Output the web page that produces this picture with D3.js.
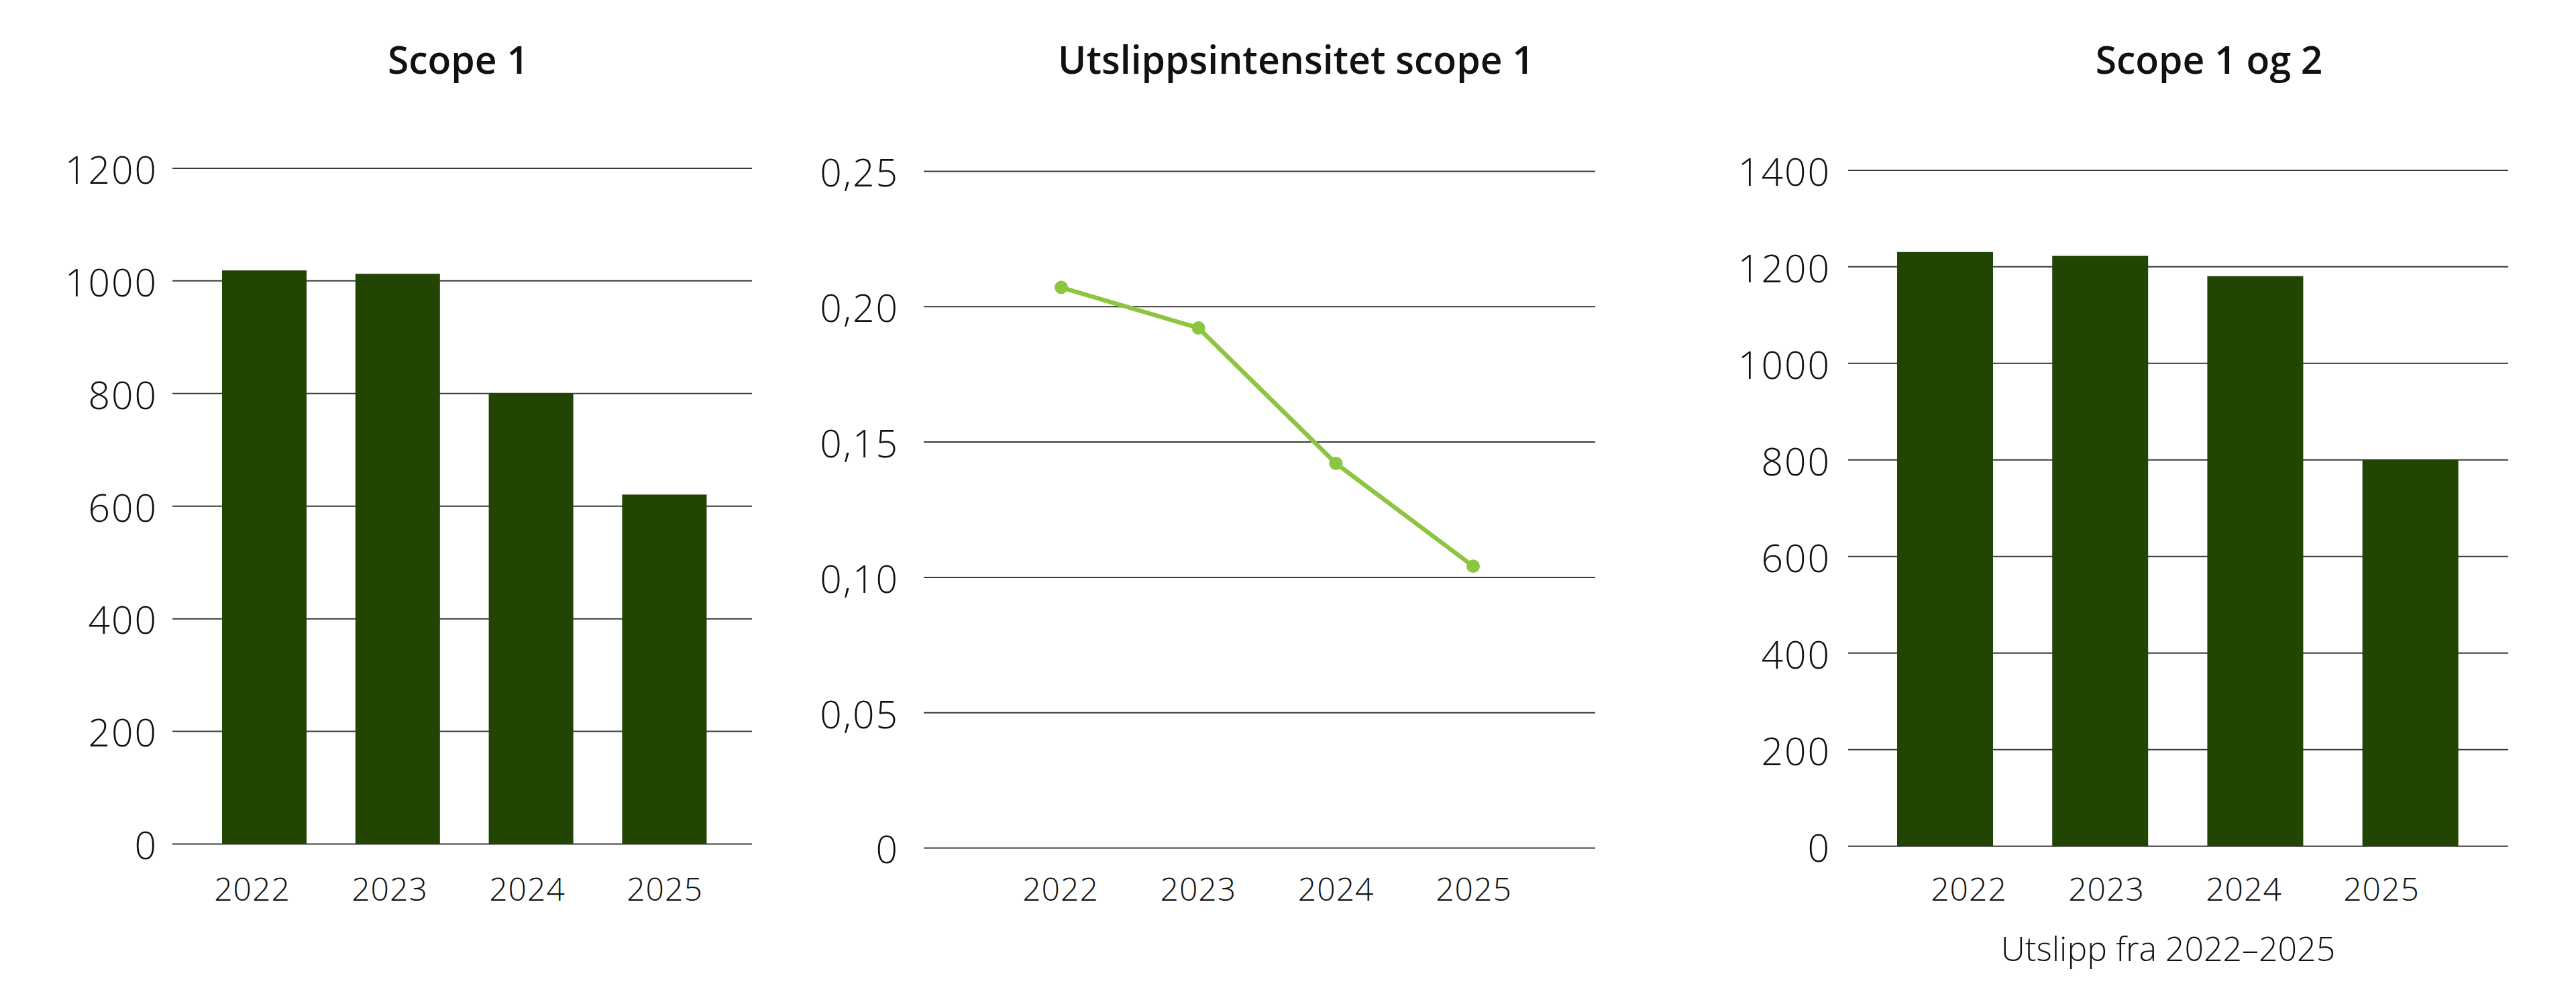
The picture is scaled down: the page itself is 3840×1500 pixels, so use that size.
<!DOCTYPE html>
<html>
<head>
<meta charset="utf-8">
<script src="https://cdn.jsdelivr.net/npm/d3@7"></script>
<style>
  html, body { margin: 0; padding: 0; background: #ffffff; }
  svg { display: block; }
</style>
</head>
<body>
<svg id="chart" width="3840" height="1500"></svg>
<script>
// ---------- DATA ----------
const years = ["2022", "2023", "2024", "2025"];
const scope1Values = [1018, 1012, 800, 620];
const intensityValues = [0.207, 0.192, 0.142, 0.104];
const scope12Values = [1230, 1222, 1180, 799];

const scope1Ticks = [0, 200, 400, 600, 800, 1000, 1200];
const intensityTicks = [0, 0.05, 0.10, 0.15, 0.20, 0.25];
const scope12Ticks = [0, 200, 400, 600, 800, 1000, 1200, 1400];

const titles = ["Scope 1", "Utslippsintensitet scope 1", "Scope 1 og 2"];
const xAxisTitle = "Utslipp fra 2022\u20132025";

// ---------- STYLE ----------
const FONT = "'Open Sans', 'Noto Sans', sans-serif";
const BAR_COLOR = "#234503";
const LINE_COLOR = "#8cc540";
const GRID_COLOR = "#3a3a3a";
const TEXT_COLOR = "#111111";

const svg = d3.select("#chart");
svg.append("rect").attr("width", 3840).attr("height", 1500).attr("fill", "#fff");

// ---------- LAYOUT ----------
const panels = [
  { kind: "bar", title: titles[0], values: scope1Values, ticks: scope1Ticks, max: 1200,
    gx0: 257, gx1: 1121, yTop: 250.4, yBot: 1258,
    markRange: [294.6, 1089.8], pad: 0.366, labelRange: [376, 991],
    yLabelPad: 22, titleX: 683, fmt: d => String(d) },
  { kind: "line", title: titles[1], values: intensityValues, ticks: intensityTicks, max: 0.25,
    gx0: 1377, gx1: 2378, yTop: 255, yBot: 1264,
    markRange: [1582, 2196], labelRange: [1581, 2197],
    yLabelPad: 37, titleX: 1932,
    fmt: d => d === 0 ? "0" : d3.format(".2f")(d).replace(".", ",") },
  { kind: "bar", title: titles[2], values: scope12Values, ticks: scope12Ticks, max: 1400,
    gx0: 2755, gx1: 3739, yTop: 253.4, yBot: 1261.2,
    markRange: [2783.9, 3708.7], pad: 0.3815, labelRange: [2935, 3550],
    yLabelPad: 26, titleX: 3293, fmt: d => String(d),
    xTitle: xAxisTitle, xTitleX: 3232, xTitleY: 1433 }
];

panels.forEach(p => {
  const g = svg.append("g");
  const y = d3.scaleLinear().domain([0, p.max]).range([p.yBot, p.yTop]);

  // Title
  g.append("text")
    .attr("x", p.titleX).attr("y", 110)
    .attr("text-anchor", "middle")
    .attr("font-family", FONT).attr("font-weight", 600)
    .attr("font-size", 57).attr("fill", TEXT_COLOR)
    .text(p.title);

  // Y axis with gridlines
  const yAxis = d3.axisLeft(y)
    .tickValues(p.ticks)
    .tickFormat(p.fmt)
    .tickSize(-(p.gx1 - p.gx0))
    .tickPadding(p.yLabelPad);

  const ya = g.append("g")
    .attr("transform", `translate(${p.gx0},0)`)
    .call(yAxis);
  ya.select(".domain").remove();
  ya.selectAll(".tick line")
    .attr("stroke", GRID_COLOR).attr("stroke-width", 2);
  ya.selectAll(".tick text")
    .attr("font-family", FONT).attr("font-weight", 300)
    .attr("font-size", 57).attr("letter-spacing", 2)
    .attr("fill", TEXT_COLOR)
    .attr("dy", "0.40em");

  // Marks
  if (p.kind === "bar") {
    const x = d3.scaleBand().domain(years).range(p.markRange)
      .paddingInner(p.pad).paddingOuter(p.pad / 2);
    g.append("g").selectAll("rect")
      .data(years.map((yr, i) => ({ yr, v: p.values[i] })))
      .join("rect")
      .attr("x", d => x(d.yr))
      .attr("width", x.bandwidth())
      .attr("y", d => y(d.v))
      .attr("height", d => y(0) - y(d.v))
      .attr("fill", BAR_COLOR);
  } else {
    const x = d3.scalePoint().domain(years).range(p.markRange);
    const data = years.map((yr, i) => ({ yr, v: p.values[i] }));
    const line = d3.line().x(d => x(d.yr)).y(d => y(d.v));
    g.append("path")
      .datum(data)
      .attr("d", line)
      .attr("fill", "none")
      .attr("stroke", LINE_COLOR)
      .attr("stroke-width", 6.5)
      .attr("stroke-linejoin", "round");
    g.append("g").selectAll("circle")
      .data(data)
      .join("circle")
      .attr("cx", d => x(d.yr))
      .attr("cy", d => y(d.v))
      .attr("r", 10)
      .attr("fill", LINE_COLOR);
  }

  // X category labels
  const xl = d3.scalePoint().domain(years).range(p.labelRange);
  g.append("g").selectAll("text")
    .data(years)
    .join("text")
    .attr("x", d => xl(d))
    .attr("y", 1343)
    .attr("text-anchor", "middle")
    .attr("font-family", FONT).attr("font-weight", 300)
    .attr("font-size", 48).attr("letter-spacing", 1)
    .attr("fill", TEXT_COLOR)
    .text(d => d);

  if (p.xTitle) {
    g.append("text")
      .attr("x", p.xTitleX).attr("y", p.xTitleY)
      .attr("text-anchor", "middle")
      .attr("font-family", FONT).attr("font-weight", 300)
      .attr("font-size", 50)
      .attr("fill", TEXT_COLOR)
      .text(p.xTitle);
  }
});
</script>
</body>
</html>
